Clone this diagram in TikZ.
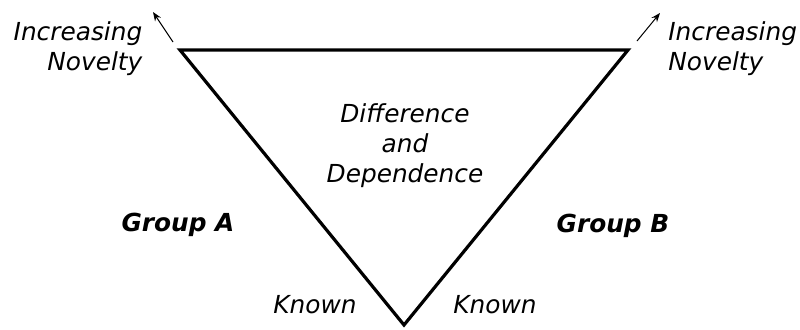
\documentclass[tikz,border=0pt]{standalone}
\usepackage{fontspec}
\setmainfont{DejaVu Sans}
\usetikzlibrary{arrows.meta}

\begin{document}
\begin{tikzpicture}[
x=0.5pt, y=-0.5pt,
>={Stealth[length=4.5pt,width=3.5pt]},
every node/.style={font=\fontsize{12.4}{15}\selectfont\itshape, inner sep=0pt},
grp/.style={font=\fontsize{12.4}{15}\selectfont\bfseries\itshape},
]
\useasboundingbox (0,0) rectangle (800,329);
% triangle corners
\coordinate (TL) at (180,50);
\coordinate (TR) at (628,50);
\coordinate (B) at (404,325);
\draw[line width=1.6pt] (TL) -- (TR) -- (B) -- cycle;
% arrow ends
\coordinate (AL1) at (173,42);
\coordinate (AL2) at (153,12);
\coordinate (AR1) at (637,41);
\coordinate (AR2) at (660,13);
\draw[->, line width=0.5pt] (AL1) -- (AL2);
\draw[->, line width=0.5pt] (AR1) -- (AR2);
% labels
\node[align=right] (novL) at (78,49) {Increasing\\Novelty};
\node[align=left, anchor=west] (novR) at (668,49) {Increasing\\Novelty};
\node[align=center] (diff) at (405,146) {Difference\\and\\Dependence};
\node[grp] (grpA) at (178,225) {Group A};
\node[grp] (grpB) at (613,226) {Group B};
\node (knL) at (315,305) {Known};
\node (knR) at (495,305) {Known};
\end{tikzpicture}
\end{document}
